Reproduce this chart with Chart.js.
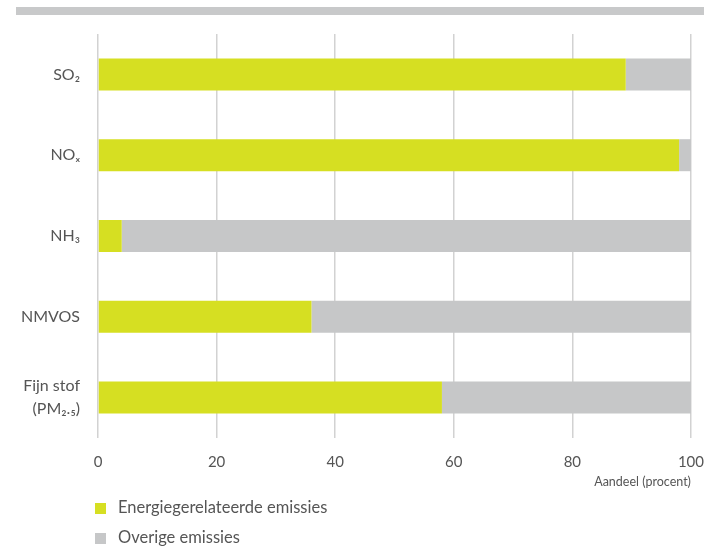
<!DOCTYPE html>
<html>
<head>
<meta charset="utf-8">
<script src="https://cdn.jsdelivr.net/npm/chart.js@4"></script>
<style>
  body { margin: 0; background: #fff; font-family: Lato, sans-serif; }
  #wrap { position: relative; width: 704px; height: 546px; overflow: hidden; }
  #topbar { position: absolute; left: 16px; top: 7px; width: 688px; height: 8px; background: #c8c9ca; }
  #box { position: absolute; left: 0; top: 0; width: 704px; height: 500px; }
  #legend { position: absolute; left: 95px; top: 496px; color: #555; font-size: 16.5px; }
  #legend div { height: 30px; line-height: 22px; }
  #legend span { display: inline-block; width: 11px; height: 11px; margin-right: 12px; vertical-align: -1px; }
</style>
</head>
<body>
<div id="wrap">
  <div id="topbar"></div>
  <div id="box"><canvas id="chart"></canvas></div>
  <div id="legend"></div>
</div>
<script>
const categories = ['SO₂', 'NOₓ', 'NH₃', 'NMVOS', ['Fijn stof', '(PM₂.₅)']];
const energie = [89, 98, 4, 36, 58];
const overige = [11, 2, 96, 64, 42];
const xTicks = [0, 20, 40, 60, 80, 100];
const seriesNames = ['Energiegerelateerde emissies', 'Overige emissies'];
const colors = ['#d6df22', '#c6c7c8'];

const chart = new Chart(document.getElementById('chart'), {
  type: 'bar',
  data: {
    labels: categories,
    datasets: [
      { label: seriesNames[0], data: energie, backgroundColor: colors[0], borderWidth: 0 },
      { label: seriesNames[1], data: overige, backgroundColor: colors[1], borderWidth: 0 },
    ],
  },
  options: {
    indexAxis: 'y',
    responsive: true,
    maintainAspectRatio: false,
    animation: false,
    barPercentage: 0.8,
    categoryPercentage: 0.495,
    layout: { padding: { top: 34, right: 0, bottom: 11, left: 0 } },
    plugins: { legend: { display: false }, tooltip: { enabled: false } },
    scales: {
      x: {
        stacked: true,
        min: 0,
        max: 100,
        afterBuildTicks: (scale) => { scale.ticks = xTicks.map((v) => ({ value: v })); },
        afterFit: (scale) => { scale.height = 51; },
        border: { display: false },
        // tick marks are kept invisible; their length spaces the labels from the plot
        grid: { color: '#d2d2d2', lineWidth: 1.5, drawTicks: true, tickLength: 15, tickColor: 'rgba(0,0,0,0)' },
        ticks: { color: '#555', font: { family: 'Lato', size: 15 }, padding: 0, maxRotation: 0 },
        title: {
          display: true,
          text: 'Aandeel (procent)',
          align: 'end',
          color: '#555',
          font: { family: 'Lato', size: 12.5 },
          padding: { top: 4, bottom: 0 },
        },
      },
      y: {
        stacked: true,
        afterFit: (scale) => { scale.width = 98; },
        border: { display: false },
        grid: { color: 'rgba(0,0,0,0)', drawOnChartArea: false, drawTicks: true, tickLength: 18, tickColor: 'rgba(0,0,0,0)' },
        ticks: { color: '#555', font: { family: 'Lato', size: 16, lineHeight: 1.45 }, padding: 0 },
      },
    },
  },
});

const legend = document.getElementById('legend');
chart.data.datasets.forEach((ds) => {
  const row = document.createElement('div');
  const sw = document.createElement('span');
  sw.style.background = ds.backgroundColor;
  row.appendChild(sw);
  row.appendChild(document.createTextNode(ds.label));
  legend.appendChild(row);
});
</script>
</body>
</html>
